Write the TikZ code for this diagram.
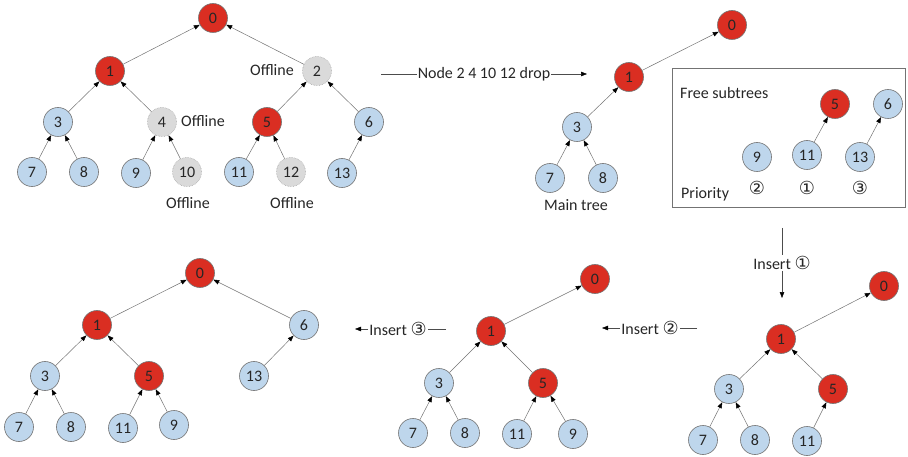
\documentclass[tikz,border=0pt]{standalone}
\usepackage{fontspec}
\setmainfont{Carlito}
\newfontfamily\circfont{DejaVu Sans}
\usetikzlibrary{arrows.meta}

\definecolor{nodered}{RGB}{218,46,34}
\definecolor{nodeblue}{RGB}{190,214,236}
\definecolor{nodegray}{RGB}{218,218,218}
\definecolor{edgegray}{RGB}{115,115,115}
\newcommand{\prio}[1]{{\circfont\fontsize{18}{18}\selectfont #1}}

\begin{document}
\begin{tikzpicture}[x=1pt,y=-1pt,
    font=\fontsize{16}{19}\selectfont,
    vert/.style={circle,draw=black!55,line width=0.6pt,minimum size=29pt,inner sep=0pt,text=black!85},
    rnode/.style={vert,fill=nodered},
    bnode/.style={vert,fill=nodeblue},
    gnode/.style={vert,fill=nodegray,draw=black!35,densely dotted},
    edge/.style={draw=edgegray,line width=0.5pt,-{Triangle[length=6pt,width=4.5pt,color=black]}},
    flow/.style={draw=black!70,line width=0.5pt,-{Triangle[length=6pt,width=4.5pt,color=black]}},
    lbl/.style={text=black!85,inner sep=1pt}]
    \useasboundingbox (0,0) rectangle (908,457);

    % initial tree
    \node[rnode] (a0) at (213,18) {0};
    \node[rnode] (a1) at (110,71) {1};
    \node[gnode] (a2) at (317,71) {2};
    \node[bnode] (a3) at (58,122) {3};
    \node[gnode] (a4) at (162,122) {4};
    \node[rnode] (a5) at (267,122) {5};
    \node[bnode] (a6) at (369,122) {6};
    \node[bnode] (a7) at (32,172) {7};
    \node[bnode] (a8) at (84,172) {8};
    \node[bnode] (a9) at (136,173) {9};
    \node[gnode] (a10) at (187,172) {10};
    \node[bnode] (a11) at (239,172) {11};
    \node[gnode] (a12) at (291,172) {12};
    \node[bnode] (a13) at (342,173) {13};

    \draw[edge] (a1) -- (a0);
    \draw[edge] (a2) -- (a0);
    \draw[edge] (a3) -- (a1);
    \draw[edge] (a4) -- (a1);
    \draw[edge] (a5) -- (a2);
    \draw[edge] (a6) -- (a2);
    \draw[edge] (a7) -- (a3);
    \draw[edge] (a8) -- (a3);
    \draw[edge] (a9) -- (a4);
    \draw[edge] (a10) -- (a4);
    \draw[edge] (a11) -- (a5);
    \draw[edge] (a12) -- (a5);
    \draw[edge] (a13) -- (a6);

    \node[lbl] (off2) at (272,70) {Offline};
    \node[lbl] (off4) at (203,121) {Offline};
    \node[lbl] (off10) at (188,203) {Offline};
    \node[lbl] (off12) at (292,203) {Offline};

    % drop step
    \coordinate (d1s) at (381,74);
    \coordinate (d1e) at (587,74);
    \node[lbl] (drop) at (484,74) {Node 2 4 10 12 drop};
    \draw[flow] (d1s) -- (drop) -- (d1e);

    % main tree
    \node[rnode] (b0) at (732,25) {0};
    \node[rnode] (b1) at (629,77) {1};
    \node[bnode] (b3) at (577,127) {3};
    \node[bnode] (b7) at (550,178) {7};
    \node[bnode] (b8) at (603,178) {8};
    \draw[edge] (b1) -- (b0);
    \draw[edge] (b3) -- (b1);
    \draw[edge] (b7) -- (b3);
    \draw[edge] (b8) -- (b3);
    \node[lbl] (main) at (576,205) {Main tree};

    % free subtrees
    \draw[black!55,line width=0.6pt] (672,68) rectangle (905,207);
    \node[lbl,anchor=west] (free) at (679,93) {Free subtrees};
    \node[lbl,anchor=west] (prio) at (680,194) {Priority};
    \node[rnode] (f5) at (835,104) {5};
    \node[bnode] (f6) at (888,104) {6};
    \node[bnode] (f9) at (757,157) {9};
    \node[bnode] (f11) at (807,155) {11};
    \node[bnode] (f13) at (860,157) {13};
    \draw[edge] (f11) -- (f5);
    \draw[edge] (f13) -- (f6);
    \node[lbl] (p9) at (757,188) {\prio{②}};
    \node[lbl] (p11) at (807,188) {\prio{①}};
    \node[lbl] (p13) at (860,188) {\prio{③}};

    % insert 1
    \coordinate (i1s) at (782,228);
    \coordinate (i1e) at (782,298);
    \node[lbl] (ins1) at (782,263) {Insert \prio{①}};
    \draw[flow] (i1s) -- (ins1) -- (i1e);

    \node[rnode] (c0) at (884,286) {0};
    \node[rnode] (c1) at (781,339) {1};
    \node[bnode] (c3) at (729,389) {3};
    \node[rnode] (c5) at (833,389) {5};
    \node[bnode] (c7) at (703,440) {7};
    \node[bnode] (c8) at (755,440) {8};
    \node[bnode] (c11) at (807,441) {11};
    \draw[edge] (c1) -- (c0);
    \draw[edge] (c3) -- (c1);
    \draw[edge] (c5) -- (c1);
    \draw[edge] (c7) -- (c3);
    \draw[edge] (c8) -- (c3);
    \draw[edge] (c11) -- (c5);

    % insert 2
    \coordinate (i2s) at (697,328);
    \coordinate (i2e) at (602,328);
    \node[lbl] (ins2) at (650,328) {Insert \prio{②}};
    \draw[flow] (i2s) -- (ins2) -- (i2e);

    \node[rnode] (d0) at (595,279) {0};
    \node[rnode] (d1) at (491,331) {1};
    \node[bnode] (d3) at (439,383) {3};
    \node[rnode] (d5) at (543,383) {5};
    \node[bnode] (d7) at (413,433) {7};
    \node[bnode] (d8) at (465,433) {8};
    \node[bnode] (d11) at (517,434) {11};
    \node[bnode] (d9) at (573,434) {9};
    \draw[edge] (d1) -- (d0);
    \draw[edge] (d3) -- (d1);
    \draw[edge] (d5) -- (d1);
    \draw[edge] (d7) -- (d3);
    \draw[edge] (d8) -- (d3);
    \draw[edge] (d11) -- (d5);
    \draw[edge] (d9) -- (d5);

    % insert 3
    \coordinate (i3s) at (446,329);
    \coordinate (i3e) at (355,329);
    \node[lbl] (ins3) at (398,329) {Insert \prio{③}};
    \draw[flow] (i3s) -- (ins3) -- (i3e);

    \node[rnode] (e0) at (200,273) {0};
    \node[rnode] (e1) at (97,325) {1};
    \node[bnode] (e6) at (304,325) {6};
    \node[bnode] (e3) at (45,376) {3};
    \node[rnode] (e5) at (149,376) {5};
    \node[bnode] (e13) at (254,376) {13};
    \node[bnode] (e7) at (19,427) {7};
    \node[bnode] (e8) at (71,427) {8};
    \node[bnode] (e11) at (123,428) {11};
    \node[bnode] (e9) at (174,425) {9};
    \draw[edge] (e1) -- (e0);
    \draw[edge] (e6) -- (e0);
    \draw[edge] (e3) -- (e1);
    \draw[edge] (e5) -- (e1);
    \draw[edge] (e13) -- (e6);
    \draw[edge] (e7) -- (e3);
    \draw[edge] (e8) -- (e3);
    \draw[edge] (e11) -- (e5);
    \draw[edge] (e9) -- (e5);
\end{tikzpicture}
\end{document}
